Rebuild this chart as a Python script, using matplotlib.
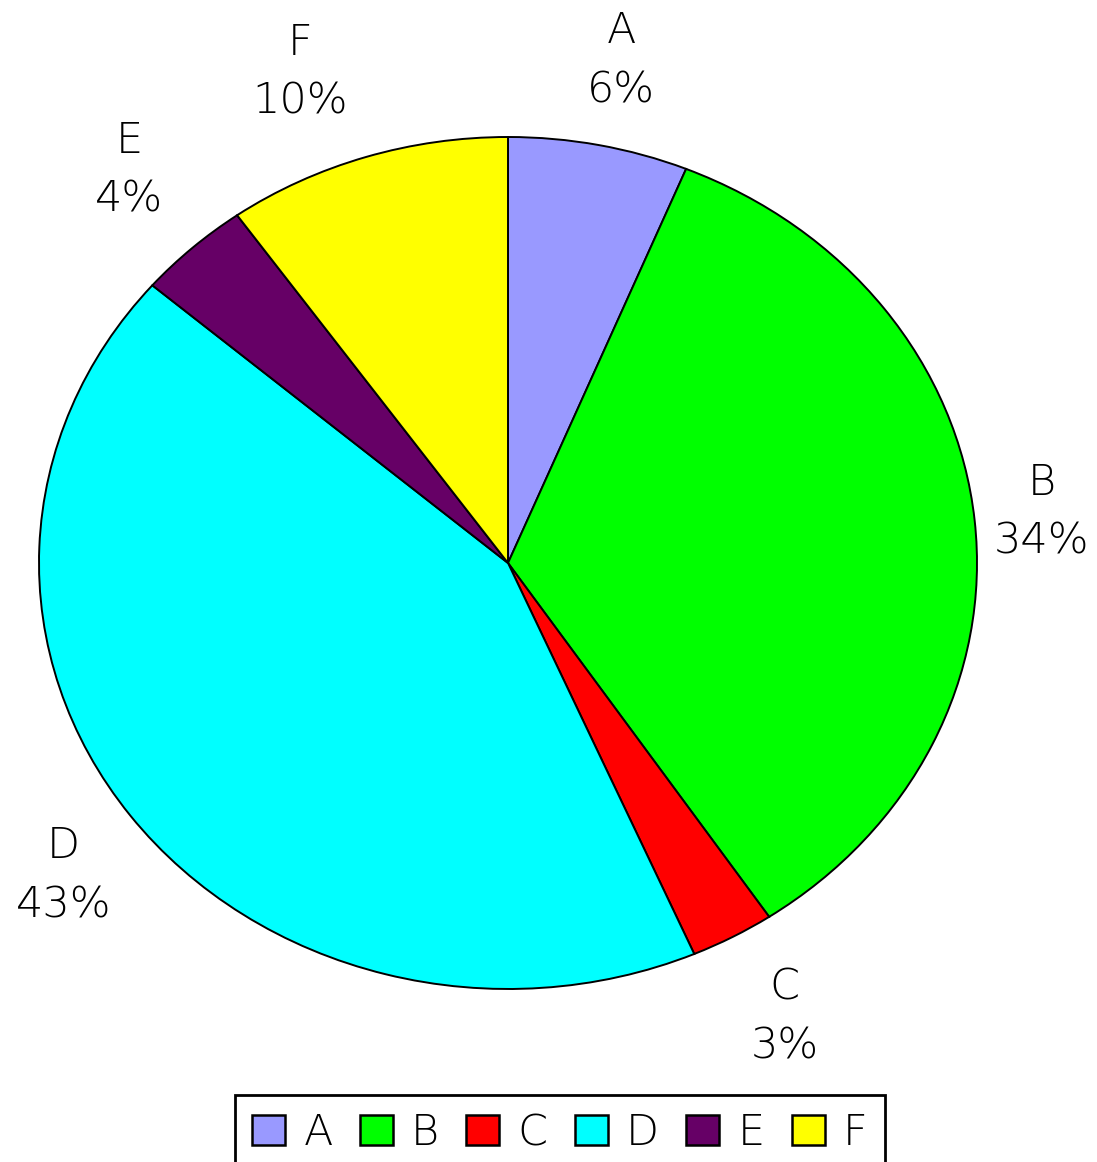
import matplotlib.pyplot as plt
from matplotlib.patches import Patch

# slice data (labels show the rounded percentages)
names = ['A', 'B', 'C', 'D', 'E', 'F']
shares = [6.2, 34.4, 2.9, 42.8, 3.9, 9.8]
colours = ['#9999FF', '#00FF00', '#FF0000', '#00FFFF', '#660066', '#FFFF00']

# small pixel nudges so the labels sit where the reference puts them
label_nudge = [(4, -1), (-26, 0), (7, 5), (9, 9), (0, -15), (-37, -4)]

plt.rcParams['font.family'] = ['DejaVu Sans']

W, H = 1097, 1162
fig = plt.figure(figsize=(W / 100, H / 100), dpi=100)

# axes box = bounding box of the (elliptical) pie
left, right, top, bottom = 39, 977, 137, 989
ax = fig.add_axes([left / W, 1 - bottom / H, (right - left) / W, (bottom - top) / H])
rx, ry = (right - left) / 2, (bottom - top) / 2

labels = [f'{n}\n{round(p)}%' for n, p in zip(names, shares)]
wedges, texts = ax.pie(shares, colors=colours, startangle=90, counterclock=False,
                       labels=labels, labeldistance=1.2,
                       wedgeprops=dict(edgecolor='black', linewidth=1.4),
                       textprops=dict(fontsize=31, color='black', linespacing=1.55,
                                      fontweight='light'))
for t, (nx, ny) in zip(texts, label_nudge):
    x, y = t.get_position()
    t.set_position((x + nx / rx, y - ny / ry))
    t.set_ha('center')
    t.set_va('center')
    t.set_multialignment('center')

ax.set_aspect('auto')
ax.set_xlim(-1, 1)
ax.set_ylim(-1, 1)
ax.axis('off')

handles = [Patch(facecolor=c, edgecolor='black', linewidth=1.8) for c in colours]
leg = fig.legend(handles, names, loc='upper center', ncol=6,
                 bbox_to_anchor=(560 / W, 1 - 1095 / H),
                 prop=dict(size=31, weight='light'), frameon=True, fancybox=False,
                 framealpha=1, edgecolor='black',
                 handlelength=0.77, handleheight=0.67, handletextpad=0.42,
                 columnspacing=0.63, borderpad=0.4, borderaxespad=0)
leg.get_frame().set_linewidth(2)

fig.savefig('out.png', dpi=100, facecolor='white')
